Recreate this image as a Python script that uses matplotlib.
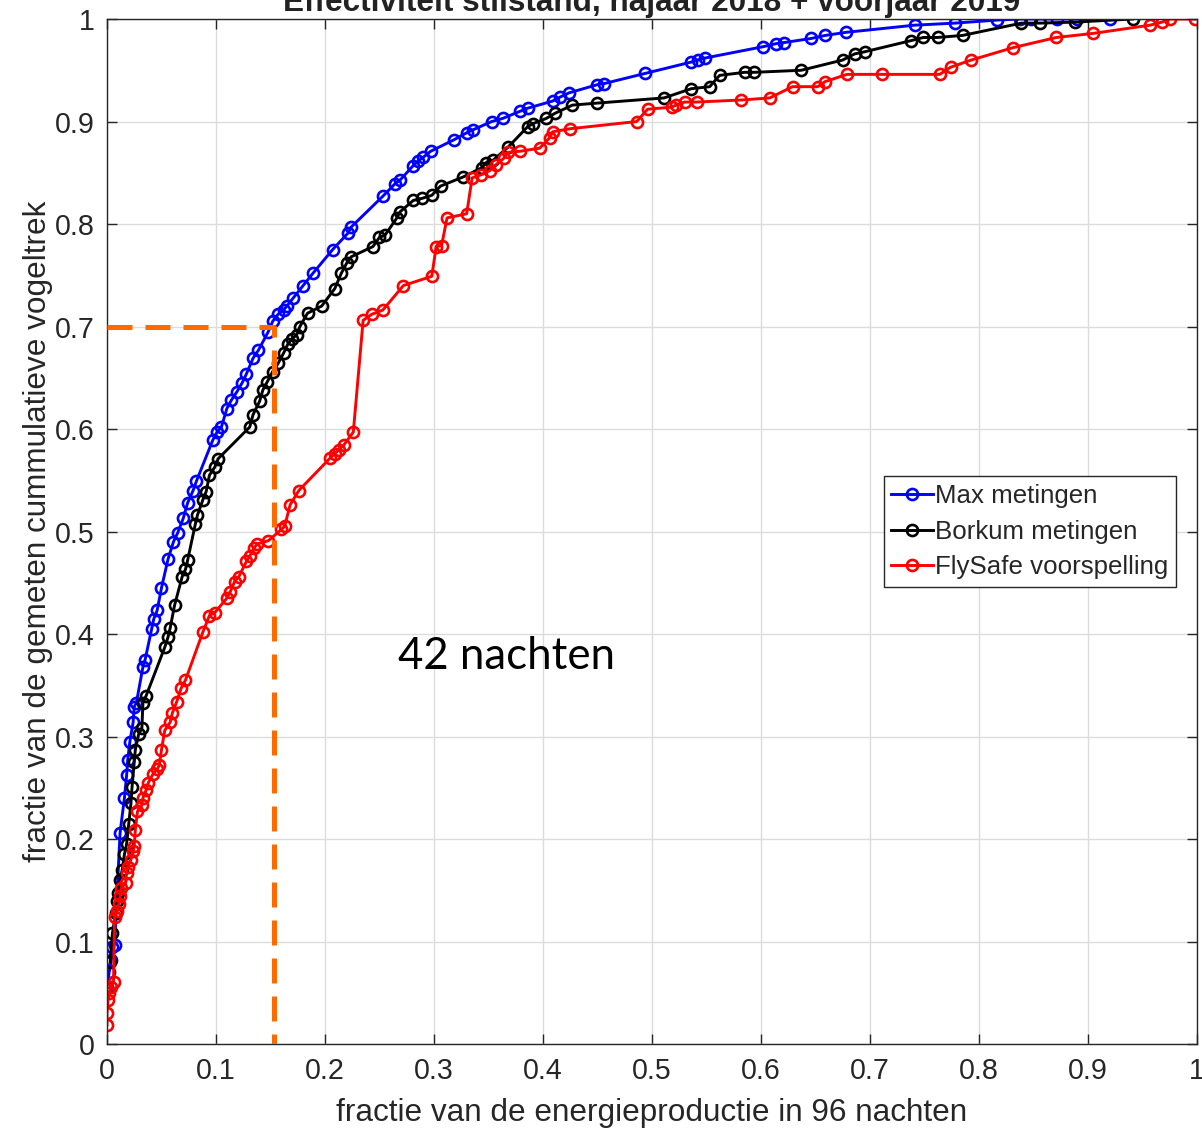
import matplotlib
matplotlib.use('Agg')
import matplotlib.pyplot as plt

plt.rcParams['font.family'] = ['Liberation Sans', 'DejaVu Sans']

# Max metingen
max_x = [0.000, 0.002, 0.004, 0.005, 0.007, 0.012, 0.016, 0.018, 0.019, 0.021, 0.024, 0.025,
         0.027, 0.033, 0.035, 0.041, 0.043, 0.046, 0.050, 0.056, 0.061, 0.065, 0.070, 0.074,
         0.079, 0.082, 0.097, 0.101, 0.105, 0.110, 0.114, 0.119, 0.124, 0.128, 0.134, 0.139,
         0.148, 0.152, 0.157, 0.162, 0.165, 0.171, 0.180, 0.189, 0.207, 0.221, 0.224, 0.253,
         0.264, 0.269, 0.281, 0.285, 0.290, 0.297, 0.318, 0.330, 0.336, 0.353, 0.363, 0.379,
         0.386, 0.409, 0.416, 0.424, 0.450, 0.456, 0.494, 0.536, 0.542, 0.549, 0.602, 0.614,
         0.621, 0.646, 0.659, 0.678, 0.741, 0.778, 0.817, 0.838, 0.848, 0.872, 0.890, 0.920]
max_y = [0.056, 0.070, 0.082, 0.095, 0.097, 0.206, 0.240, 0.262, 0.277, 0.295, 0.314, 0.329,
         0.333, 0.368, 0.375, 0.405, 0.415, 0.423, 0.445, 0.473, 0.490, 0.499, 0.513, 0.528,
         0.540, 0.549, 0.589, 0.597, 0.602, 0.620, 0.628, 0.636, 0.645, 0.654, 0.669, 0.677,
         0.695, 0.705, 0.712, 0.716, 0.720, 0.728, 0.740, 0.752, 0.775, 0.791, 0.797, 0.827,
         0.839, 0.843, 0.857, 0.861, 0.865, 0.871, 0.882, 0.889, 0.892, 0.900, 0.903, 0.910,
         0.913, 0.920, 0.924, 0.928, 0.936, 0.937, 0.947, 0.958, 0.960, 0.962, 0.973, 0.976,
         0.977, 0.981, 0.984, 0.987, 0.994, 0.996, 0.999, 1.000, 1.000, 1.000, 1.000, 1.000]

# Borkum metingen
bork_x = [0.003, 0.005, 0.008, 0.009, 0.010, 0.012, 0.014, 0.016, 0.018, 0.020, 0.022, 0.023,
          0.025, 0.026, 0.029, 0.032, 0.033, 0.036, 0.053, 0.056, 0.058, 0.062, 0.069, 0.072,
          0.074, 0.081, 0.083, 0.088, 0.091, 0.094, 0.099, 0.102, 0.131, 0.134, 0.140, 0.143,
          0.147, 0.152, 0.157, 0.162, 0.166, 0.170, 0.174, 0.177, 0.184, 0.197, 0.209, 0.215,
          0.220, 0.224, 0.244, 0.250, 0.255, 0.266, 0.269, 0.281, 0.289, 0.298, 0.306, 0.327,
          0.344, 0.348, 0.354, 0.368, 0.386, 0.391, 0.403, 0.411, 0.427, 0.450, 0.511, 0.536,
          0.553, 0.562, 0.585, 0.594, 0.637, 0.675, 0.686, 0.695, 0.738, 0.749, 0.762, 0.785,
          0.839, 0.856, 0.888, 0.941]
bork_y = [0.080, 0.108, 0.128, 0.140, 0.147, 0.160, 0.170, 0.185, 0.195, 0.215, 0.235, 0.251,
          0.275, 0.287, 0.302, 0.308, 0.333, 0.340, 0.387, 0.397, 0.406, 0.428, 0.456, 0.463,
          0.472, 0.507, 0.516, 0.531, 0.539, 0.555, 0.563, 0.571, 0.602, 0.614, 0.627, 0.638,
          0.646, 0.656, 0.664, 0.674, 0.683, 0.688, 0.692, 0.700, 0.713, 0.720, 0.737, 0.752,
          0.762, 0.768, 0.778, 0.787, 0.789, 0.806, 0.812, 0.823, 0.825, 0.828, 0.837, 0.846,
          0.855, 0.860, 0.862, 0.875, 0.895, 0.898, 0.903, 0.908, 0.916, 0.918, 0.923, 0.932,
          0.934, 0.945, 0.948, 0.948, 0.950, 0.960, 0.966, 0.968, 0.979, 0.982, 0.982, 0.984,
          0.996, 0.996, 0.997, 1.000]

# FlySafe voorspelling
fly_x = [0.000, 0.000, 0.001, 0.002, 0.004, 0.006, 0.007, 0.009, 0.011, 0.012, 0.013, 0.017,
         0.018, 0.019, 0.022, 0.024, 0.025, 0.026, 0.028, 0.032, 0.033, 0.036, 0.038, 0.042,
         0.046, 0.048, 0.050, 0.053, 0.058, 0.060, 0.064, 0.068, 0.072, 0.088, 0.094, 0.099,
         0.110, 0.113, 0.117, 0.121, 0.128, 0.131, 0.135, 0.138, 0.148, 0.160, 0.163, 0.168,
         0.176, 0.205, 0.209, 0.213, 0.217, 0.226, 0.235, 0.243, 0.253, 0.272, 0.298, 0.302,
         0.307, 0.312, 0.330, 0.335, 0.343, 0.351, 0.357, 0.364, 0.368, 0.379, 0.397, 0.406,
         0.409, 0.425, 0.486, 0.496, 0.518, 0.522, 0.530, 0.541, 0.582, 0.608, 0.629, 0.652,
         0.659, 0.679, 0.711, 0.764, 0.774, 0.793, 0.831, 0.871, 0.905, 0.957, 0.968, 0.975,
         0.998]
fly_y = [0.019, 0.030, 0.043, 0.050, 0.056, 0.061, 0.124, 0.130, 0.137, 0.144, 0.152, 0.157,
         0.167, 0.173, 0.180, 0.188, 0.193, 0.209, 0.227, 0.233, 0.240, 0.248, 0.255, 0.263,
         0.268, 0.272, 0.287, 0.306, 0.314, 0.323, 0.334, 0.347, 0.355, 0.402, 0.418, 0.421,
         0.435, 0.441, 0.451, 0.456, 0.471, 0.476, 0.484, 0.488, 0.491, 0.502, 0.505, 0.526,
         0.540, 0.572, 0.576, 0.580, 0.584, 0.597, 0.706, 0.712, 0.716, 0.740, 0.749, 0.778,
         0.779, 0.806, 0.810, 0.845, 0.848, 0.852, 0.858, 0.864, 0.870, 0.871, 0.874, 0.884,
         0.890, 0.893, 0.900, 0.912, 0.914, 0.916, 0.919, 0.919, 0.921, 0.923, 0.934, 0.934,
         0.939, 0.946, 0.946, 0.946, 0.953, 0.960, 0.972, 0.982, 0.986, 0.994, 0.997, 1.000,
         1.000]

# drempel: 70% van de vogeltrek bij ~15% van de energie
drempel_x = 0.153
drempel_y = 0.70

ticks = [0, 0.1, 0.2, 0.3, 0.4, 0.5, 0.6, 0.7, 0.8, 0.9, 1]
ticklabels = ['0', '0.1', '0.2', '0.3', '0.4', '0.5', '0.6', '0.7', '0.8', '0.9', '1']

txtkleur = '#262626'

fig = plt.figure(figsize=(12.02, 11.32), dpi=100)
ax = fig.add_axes([0.089, 0.0777, 0.9068, 0.9055])

stijl = dict(marker='o', markerfacecolor='none', markersize=8, markeredgewidth=1.9, linewidth=2.1)
ax.plot(max_x, max_y, color='#0000ff', label='Max metingen', **stijl)
ax.plot(bork_x, bork_y, color='#000000', label='Borkum metingen', **stijl)
ax.plot(fly_x, fly_y, color='#ff0000', label='FlySafe voorspelling', **stijl)

# oranje stippellijn
ax.plot([0, drempel_x, drempel_x], [drempel_y, drempel_y, 0], color='#ff6a00',
        linewidth=3.6, dashes=(5, 2.6), solid_capstyle='butt', dash_capstyle='butt', zorder=5)

ax.text(0.267, 0.378, '42 nachten', fontsize=31.5, family=['Lato', 'DejaVu Sans'],
        color='black', va='center', ha='left')

ax.set_xlim(0, 1)
ax.set_ylim(0, 1)
ax.set_xticks(ticks)
ax.set_xticklabels(ticklabels)
ax.set_yticks(ticks)
ax.set_yticklabels(ticklabels)
ax.tick_params(direction='in', length=7, width=1, top=True, right=True,
               labelsize=20.6, labelcolor=txtkleur, color=txtkleur, pad=9)
ax.grid(True, color='#dcdcdc', linewidth=1)
ax.set_axisbelow(True)
for s in ax.spines.values():
    s.set_color(txtkleur)
    s.set_linewidth(1)

ax.set_xlabel('fractie van de energieproductie in 96 nachten', fontsize=22.7, color=txtkleur, labelpad=10)
ax.set_ylabel('fractie van de gemeten cummulatieve vogeltrek', fontsize=22.7, color=txtkleur, labelpad=1)
ax.set_title('Effectiviteit stilstand, najaar 2018 + voorjaar 2019', fontsize=22.7,
             fontweight='bold', color='#222222', pad=6)

leg = ax.legend(loc='upper right', bbox_to_anchor=(0.981, 0.554), borderaxespad=0,
                fontsize=18.6, fancybox=False, edgecolor=txtkleur, framealpha=1,
                handlelength=1.6, handletextpad=0.1, borderpad=0.3, labelspacing=0.45,
                numpoints=1)
leg.get_frame().set_linewidth(1)
for t in leg.get_texts():
    t.set_color(txtkleur)

fig.savefig('out.png', dpi=100)
